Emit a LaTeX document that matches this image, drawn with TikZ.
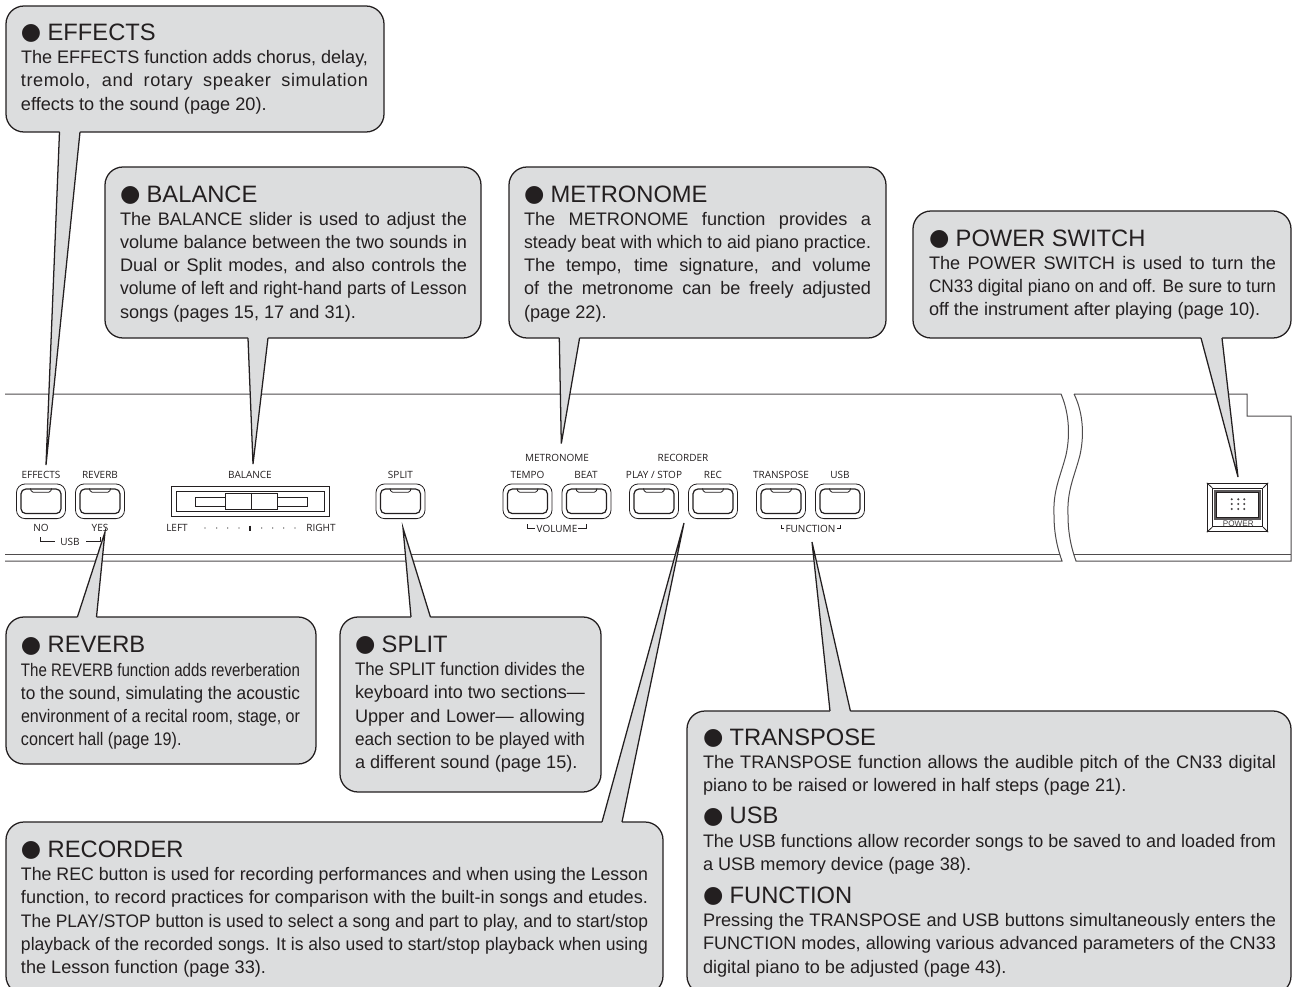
\documentclass[tikz,border=0pt]{standalone}
\usepackage{fontspec}
\usepackage{graphicx}
\setmainfont{Liberation Sans}
\newfontfamily\bulfont{DejaVu Sans}
\newfontfamily\labfont{Open Sans}
\definecolor{ink}{HTML}{231F20}
\definecolor{callgray}{HTML}{DCDDDE}
\newlength\tw
\newcommand\JL[1]{\sbox0{#1}\ifdim\wd0>\tw \resizebox{\tw}{\height}{\usebox0}\else\makebox[\tw][s]{#1}\fi\\}
\newcommand\Ttl[1]{{\fontsize{17.8}{23}\selectfont\makebox[20pt][l]{\bulfont\fontsize{17.5}{23}\selectfont\raisebox{0.6pt}{●}}#1}\\[0pt]}
\newcommand\CBox[5]{\node[cbox,minimum width={(#4-#2)*0.75pt},minimum height={(#5-#3)*0.75pt}] (#1) at ({(#2+#4)/2},{(#3+#5)/2}) {};}
\newcommand\Ptr[7]{\fill[callgray] (#2,#4) -- (#5,#6) -- (#3,#4) -- (#3,#7) -- (#2,#7) -- cycle;
  \draw[edge] (#2,#4) -- (#5,#6) coordinate (#1) -- (#3,#4);}
\newcommand\Body[5]{\setlength\tw{0.75pt}\tw=#4\tw\node[body] (#1) at (#2,#3) {#5};}
\newcommand\Btn[2]{%
  \node[btnout] (#1) at (#2,501.3) {};
  \node[btnin] (#1i) at (#2,501.3) {};
  \draw[thin1,rounded corners=1.2pt] ($(#1i.north)+(-10.5,0)$) -- ($(#1i.north)+(-9.5,3.8)$) -- ($(#1i.north)+(9.5,3.8)$) -- ($(#1i.north)+(10.5,0)$);
}
\tikzset{
  x=0.75pt,y=-0.75pt,
  cbox/.style={draw=ink,line width=0.95pt,fill=callgray,rounded corners=13.5pt,inner sep=0pt},
  edge/.style={draw=ink,line width=0.95pt,line join=miter},
  body/.style={anchor=north west,inner sep=0pt,outer sep=0pt,align=left,text=ink,font=\fontsize{13.6}{17.4}\selectfont},
  lab/.style={text=ink,inner sep=0pt,font=\labfont\fontsize{7.5}{8}\selectfont},
  panel/.style={draw=ink!80,line width=0.75pt},
  thin1/.style={draw=ink,line width=0.6pt},
  btnout/.style={draw=ink,line width=0.6pt,minimum width=36.8pt,minimum height=26pt,rounded corners=6.5pt,inner sep=0pt},
  btnin/.style={draw=ink,line width=0.9pt,minimum width=30pt,minimum height=18.4pt,rounded corners=3.6pt,inner sep=0pt},
}
\usetikzlibrary{calc}
\begin{document}
\begin{tikzpicture}
\useasboundingbox (0,0) rectangle (1293,986);
\clip (0,0) rectangle (1293,986);
\fill[white] (0,0) rectangle (1293,986);
% panel
\draw[panel] (5,394) -- (1061,394) .. controls (1068,410) and (1071,432) .. (1066,455) .. controls (1060,478) and (1053,490) .. (1054,515) .. controls (1054,535) and (1058,550) .. (1062,561) -- (5,561);
\draw[panel] (5,554) -- (1059.5,554);
\draw[panel] (1074,394) -- (1247,394) -- (1247,416) -- (1291,416) -- (1291,561) -- (1076,561) .. controls (1072,550) and (1068,535) .. (1068,515) .. controls (1067,490) and (1074,478) .. (1080,455) .. controls (1085,432) and (1082,410) .. (1074,394);
\draw[panel] (1073.5,554) -- (1291,554);
% buttons
\Btn{bEffects}{41}
\Btn{bReverb}{100}
\Btn{bSplit}{400.5}
\Btn{bTempo}{527.5}
\Btn{bBeat}{586.5}
\Btn{bPlay}{654}
\Btn{bRec}{713}
\Btn{bTrans}{781}
\Btn{bUsb}{840}
% button labels
\node[lab] (lEffects) at (41,475) {EFFECTS};
\node[lab] (lReverb) at (100,475) {REVERB};
\node[lab] (lBalance) at (250,475) {BALANCE};
\node[lab] (lSplit) at (400.5,475) {SPLIT};
\node[lab] (lMetro) at (557,458) {METRONOME};
\node[lab] (lRecorder) at (683,458) {RECORDER};
\node[lab] (lTempo) at (527.5,475) {TEMPO};
\node[lab] (lBeat) at (586,475) {BEAT};
\node[lab] (lPlay) at (654,475) {PLAY / STOP};
\node[lab] (lRec) at (713,475) {REC};
\node[lab] (lTrans) at (781,475) {TRANSPOSE};
\node[lab] (lUsbB) at (840,475) {USB};
\node[lab] (lNo) at (41,528) {NO};
\node[lab] (lYes) at (100,528) {YES};
\node[lab] (lUsb) at (70,542) {USB};
\node[lab] (lLeft) at (177,528) {LEFT};
\node[lab] (lRight) at (321,528) {RIGHT};
\node[lab] (lVol) at (557,528.5) {VOLUME};
\node[lab] (lFunc) at (810.5,528.5) {FUNCTION};
% brackets
\draw[thin1] (40.3,537) |- (54.5,541.7);
\draw[thin1] (86,541.7) -| (100,537);
\draw[thin1] (527.3,524.3) |- (534.7,528.5);
\draw[thin1] (578,528.5) -| (586.7,524.3);
\draw[thin1] (781,525) |- (784,528.3);
\draw[thin1] (837.3,528.3) -| (840,525);
% balance slider
\node[draw=ink,line width=0.75pt,minimum width=119.2pt,minimum height=23.2pt,inner sep=0pt] (balOuter) at (250.5,501.5) {};
\node[draw=ink,line width=0.75pt,minimum width=111pt,minimum height=15pt,inner sep=0pt] (balInner) at (250.5,501) {};
\node[draw=ink,line width=0.6pt,minimum width=84pt,minimum height=6.8pt,inner sep=0pt] (balSlot) at (251.5,501.5) {};
\node[draw=ink,fill=white,line width=0.6pt,minimum width=39.4pt,minimum height=12.4pt,inner sep=0pt] (balKnob) at (251.2,501.2) {};
\draw[draw=ink,line width=1pt] (balKnob.north) -- (balKnob.south);
\foreach \dx in {205,216.7,227.7,239,261.7,272.7,283.7,295} \fill[ink] (\dx,528) circle (0.5pt);
\draw[ink,line width=0.8pt] (250,525.5) -- (250,530.5);
% power
\node[draw=ink,line width=0.75pt,minimum width=45.3pt,minimum height=36.3pt,inner sep=0pt] (pwOuter) at (1237.5,507.5) {};
\node[draw=ink,line width=0.6pt,minimum width=37.5pt,minimum height=28.8pt,inner sep=0pt] (pwBevel) at (1237.7,507.5) {};
\node[draw=ink!75,line width=1.4pt,minimum width=34.2pt,minimum height=21.6pt,inner sep=0pt] (pwMid) at (1237.5,505) {};
\node[draw=ink,line width=0.7pt,minimum width=31pt,minimum height=19pt,inner sep=0pt] (pwIn) at (1237.5,505) {};
\draw[thin1] (pwOuter.north west) -- (pwBevel.north west) (pwOuter.north east) -- (pwBevel.north east) (pwOuter.south west) -- (pwBevel.south west) (pwOuter.south east) -- (pwBevel.south east);
\foreach \dx in {1231.7,1238.3,1244.3} \foreach \dy in {499.3,504,509} \fill[ink!85] (\dx,\dy) circle (0.85pt);
\node[inner sep=0pt,text=ink!85,font=\fontsize{6.1}{7}\selectfont] (pwLab) at (1238.3,524) {POWER};
% callouts
\CBox{cEffects}{6}{6}{384}{132}
\CBox{cBalance}{105}{167}{481}{338}
\CBox{cMetro}{509}{167}{886}{338}
\CBox{cPower}{913}{211}{1291}{338}
\CBox{cReverb}{6}{617}{316}{764}
\CBox{cSplit}{340}{617}{601}{792}
\CBox{cRecorder}{6}{822}{663}{994}
\CBox{cTrans}{687}{711}{1291}{994}
\Ptr{tEffects}{59.5}{80}{132}{46}{465}{129}
\Ptr{tBalance}{248}{268}{338}{253}{464}{335}
\Ptr{tMetro}{559.3}{579.6}{338}{561.3}{443.5}{335}
\Ptr{tPower}{1201}{1222}{338}{1238}{477}{335}
\Ptr{tReverb}{77.4}{96.5}{617}{105}{532}{620}
\Ptr{tSplit}{411}{430.4}{617}{403}{528}{620}
\Ptr{tRecorder}{602}{622}{822}{684}{523}{825}
\Ptr{tTrans}{830}{850.4}{711}{812}{542}{714}
% texts
\Body{xEffects}{21}{24}{347}{\Ttl{EFFECTS}\JL{The EFFECTS function adds chorus, delay,}\JL{\addfontfeature{LetterSpace=3}tremolo, and rotary speaker simulation}effects to the sound (page 20).}
\Body{xBalance}{120}{185.5}{347}{\Ttl{BALANCE}\JL{The BALANCE slider is used to adjust the}\JL{volume balance between the two sounds in}\JL{Dual or Split modes, and also controls the}\JL{volume of left and right-hand parts of Lesson}songs (pages 15, 17 and 31).}
\Body{xMetro}{524}{185.5}{347}{\Ttl{METRONOME}\JL{The METRONOME function provides a}\JL{steady beat with which to aid piano practice.}\JL{The tempo, time signature, and volume}\JL{of the metronome can be freely adjusted}(page 22).}
\Body{xPower}{929}{229.5}{347}{\Ttl{POWER SWITCH}\JL{The POWER SWITCH is used to turn the}\JL{CN33 digital piano on and off. Be sure to turn}off the instrument after playing (page 10).}
\Body{xReverb}{21}{636.5}{279}{\Ttl{REVERB}\JL{The REVERB function adds reverberation}\JL{to the sound, simulating the acoustic}\JL{environment of a recital room, stage, or}\scalebox{0.89}[1]{concert hall (page 19).}}
\Body{xSplit}{355}{636}{230}{\Ttl{SPLIT}\JL{The SPLIT function divides the}\JL{keyboard into two sections—}\JL{Upper and Lower— allowing}\JL{each section to be played with}a different sound (page 15).}
\Body{xRecorder}{21}{841}{627}{\Ttl{RECORDER}\JL{The REC button is used for recording performances and when using the Lesson}\JL{function, to record practices for comparison with the built-in songs and etudes.}\JL{The PLAY/STOP button is used to select a song and part to play, and to start/stop}\JL{playback of the recorded songs. It is also used to start/stop playback when using}the Lesson function (page 33).}
\Body{xTrans}{703}{729}{573}{\Ttl{TRANSPOSE}\JL{The TRANSPOSE function allows the audible pitch of the CN33 digital}piano to be raised or lowered in half steps (page 21).\\[6.5pt]\Ttl{USB}\JL{The USB functions allow recorder songs to be saved to and loaded from}a USB memory device (page 38).\\[7.5pt]\Ttl{FUNCTION}\JL{Pressing the TRANSPOSE and USB buttons simultaneously enters the}\JL{FUNCTION modes, allowing various advanced parameters of the CN33}digital piano to be adjusted (page 43).}
\end{tikzpicture}
\end{document}
